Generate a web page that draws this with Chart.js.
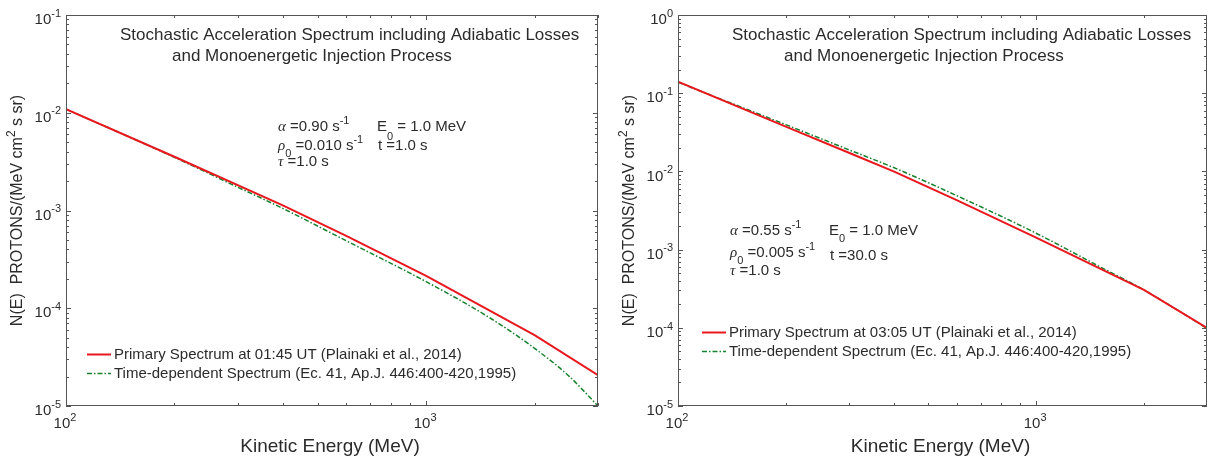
<!DOCTYPE html>
<html>
<head>
<meta charset="utf-8">
<script src="https://cdn.jsdelivr.net/npm/chart.js@4.4.0/dist/chart.umd.min.js"></script>
<style>
html, body { margin: 0; padding: 0; background: #fff; overflow: hidden; }
#caja { position: relative; width: 1207px; height: 458px; }
canvas { position: absolute; top: 0; }
</style>
</head>
<body>
<div id="caja">
  <canvas id="grafica1" width="603" height="458" style="left:0"></canvas>
  <canvas id="grafica2" width="604" height="458" style="left:603px"></canvas>
</div>
<script>
// valores (energia en MeV, N(E) en protones/(MeV cm2 s sr))
const energiaRojo1 = [100, 200, 400, 600, 1000, 2000, 3000];
const rojo1 = [1.09e-2, 3.55e-3, 1.13e-3, 5.5e-4, 2.14e-4, 5.3e-5, 2.07e-5];
const energiaVerde1 = [100, 200, 300, 400, 600, 1000, 1500, 2000, 2500, 3000];
const verde1 = [1.09e-2, 3.5e-3, 1.73e-3, 1.05e-3, 4.9e-4, 1.87e-4, 8.0e-5, 3.89e-5, 2.0e-5, 1.0e-5];

const energiaRojo2 = [100, 200, 300, 400, 600, 1000, 2000, 3000];
const rojo2 = [0.14, 3.73e-2, 1.73e-2, 1.0e-2, 4.3e-3, 1.42e-3, 3.05e-4, 1.0e-4];
const energiaVerde2 = [100, 200, 300, 400, 600, 1000, 1500, 2000, 2500, 3000];
const verde2 = [0.138, 3.96e-2, 1.89e-2, 1.12e-2, 4.9e-3, 1.62e-3, 6.1e-4, 3.05e-4, 1.65e-4, 9.8e-5];

// exponentes de las etiquetas de los ejes
const expX = [2, 3];
const expY1 = [-5, -4, -3, -2, -1];
const expY2 = [-5, -4, -3, -2, -1, 0];

const etiquetaRojo1 = 'Primary Spectrum at 01:45 UT (Plainaki et al., 2014)';
const etiquetaRojo2 = 'Primary Spectrum at 03:05 UT (Plainaki et al., 2014)';
const etiquetaVerde = 'Time-dependent Spectrum (Ec. 41, Ap.J. 446:400-420,1995)';

const sans = '"Liberation Sans", Arial, Helvetica, sans-serif';
const serif = '"Liberation Serif", "Times New Roman", serif';
const tinta = '#2b2b2b';

function pares(xs, ys) {
    return xs.map((x, i) => ({x: x, y: ys[i]}));
}

// texto con superindices / subindices
function escribir(ctx, partes, x, y, tam, medir) {
    let cx = x;
    for (const p of partes) {
        const chico = p.sup || p.sub;
        const t = chico ? Math.round(tam * 0.72) : tam;
        ctx.font = (p.griega ? 'italic ' : '') + t + 'px ' + (p.griega ? serif : sans);
        let dy = 0;
        if (p.sup) dy = -tam * 0.42;
        if (p.sub) dy = p.dy !== undefined ? p.dy : tam * 0.5;
        if (!medir) ctx.fillText(p.t, cx, y + dy);
        cx += ctx.measureText(p.t).width;
    }
    return cx - x;
}

function potencia(e) {
    return [{t: '10'}, {t: String(e), sup: true}];
}

function marco(info) {
    return {
        id: 'marco',
        afterDraw(chart) {
            const ctx = chart.ctx;
            const a = chart.chartArea;
            const sx = chart.scales.x, sy = chart.scales.y;
            ctx.save();
            ctx.strokeStyle = '#555';
            ctx.lineWidth = 1;
            ctx.strokeRect(a.left + 0.5, a.top + 0.5, a.right - a.left - 1, a.bottom - a.top - 1);

            // marcas hacia dentro en los cuatro lados
            ctx.beginPath();
            for (let d = 100; d <= 1000; d *= 10) {
                for (let k = 1; k <= 9; k++) {
                    const v = d * k;
                    if (v < 100 || v > 3000) continue;
                    const px = Math.round(sx.getPixelForValue(v)) + 0.5;
                    const l = k === 1 ? 5 : 3;
                    ctx.moveTo(px, a.bottom); ctx.lineTo(px, a.bottom - l);
                    ctx.moveTo(px, a.top); ctx.lineTo(px, a.top + l);
                }
            }
            for (let n = -5; n < info.expMax; n++) {
                for (let k = 1; k <= 9; k++) {
                    const v = k * Math.pow(10, n);
                    const py = Math.round(sy.getPixelForValue(v)) + 0.5;
                    const l = k === 1 ? 5 : 3;
                    ctx.moveTo(a.left, py); ctx.lineTo(a.left + l, py);
                    ctx.moveTo(a.right, py); ctx.lineTo(a.right - l, py);
                }
            }
            ctx.stroke();

            ctx.fillStyle = tinta;
            ctx.textBaseline = 'middle';
            ctx.textAlign = 'left';

            // etiquetas del eje y
            info.expY.forEach(e => {
                const py = sy.getPixelForValue(Math.pow(10, e));
                const w = escribir(ctx, potencia(e), 0, 0, 15, true);
                escribir(ctx, potencia(e), a.left - 5 - w, py + 5, 15);
            });
            // etiquetas del eje x
            expX.forEach(e => {
                const px = sx.getPixelForValue(Math.pow(10, e));
                const w = escribir(ctx, potencia(e), 0, 0, 15, true);
                escribir(ctx, potencia(e), px - w / 2 - 1, a.bottom + 18, 15);
            });

            // titulos de ejes
            ctx.font = '19px ' + sans;
            ctx.textAlign = 'center';
            ctx.fillText('Kinetic Energy (MeV)', (a.left + a.right) / 2 - 2, a.bottom + 41);
            ctx.textAlign = 'left';
            const tituloY = [{t: 'N(E)  PROTONS/(MeV cm'}, {t: '2', sup: true}, {t: ' s sr)'}];
            const wy = escribir(ctx, tituloY, 0, 0, 16, true);
            ctx.save();
            ctx.translate(a.left - 48, (a.top + a.bottom) / 2);
            ctx.rotate(-Math.PI / 2);
            escribir(ctx, tituloY, -wy / 2, 0, 16);
            ctx.restore();

            // titulo dentro del grafico
            ctx.font = '17px ' + sans;
            ctx.fillText('Stochastic Acceleration Spectrum including Adiabatic Losses', a.left + 54, a.top + 20);
            ctx.fillText('and Monoenergetic Injection Process', a.left + 106, a.top + 41);

            // parametros
            const p = info.param;
            const x0 = a.left + p.dx;
            escribir(ctx, [{t: '\u03b1', griega: true}, {t: ' =' + p.alfa + ' s'}, {t: '-1', sup: true}], x0, a.top + p.y1, 15);
            escribir(ctx, [{t: 'E'}, {t: '0', sub: true, dy: p.subE}, {t: ' = 1.0 MeV'}], x0 + 99, a.top + p.y1, 15);
            escribir(ctx, [{t: '\u03c1', griega: true}, {t: '0', sub: true}, {t: ' =' + p.rho + ' s'}, {t: '-1', sup: true}], x0, a.top + p.y2, 15);
            escribir(ctx, [{t: 't =' + p.t + ' s'}], x0 + 100, a.top + p.y2 + p.dt, 15);
            escribir(ctx, [{t: '\u03c4', griega: true}, {t: ' =1.0 s'}], x0, a.top + p.y3, 15);

            // leyenda
            chart.data.datasets.forEach((ds, i) => {
                const ly = Math.round(a.top + info.leyenda.y + i * 19) + 0.5;
                const lx = a.left + info.leyenda.x;
                ctx.save();
                ctx.strokeStyle = ds.borderColor;
                ctx.lineWidth = ds.borderWidth;
                ctx.setLineDash(ds.borderDash || []);
                ctx.beginPath();
                ctx.moveTo(lx, ly); ctx.lineTo(lx + 24, ly);
                ctx.stroke();
                ctx.restore();
                ctx.font = '15px ' + sans;
                ctx.fillText(ds.label, lx + 27, ly);
            });
            ctx.restore();
        }
    };
}

function crearGrafica(id, datos) {
    return new Chart(document.getElementById(id), {
        type: 'line',
        data: {
            datasets: [{
                    label: datos.etiquetaRojo,
                    data: pares(datos.er, datos.rojo),
                    borderColor: 'rgb(232, 24, 30)',
                    borderWidth: 2,
                    pointRadius: 0,
                    tension: 0
                },
                {
                    label: etiquetaVerde,
                    data: pares(datos.ev, datos.verde),
                    borderColor: 'rgb(22, 130, 45)',
                    borderWidth: 1.5,
                    borderDash: [5, 2, 1.5, 2],
                    pointRadius: 0,
                    cubicInterpolationMode: 'monotone'
                }
            ]
        },
        options: {
            responsive: false,
            animation: false,
            devicePixelRatio: 1,
            layout: {padding: {left: datos.izq, right: datos.der, top: 15, bottom: 52}},
            plugins: {legend: {display: false}, tooltip: {enabled: false}},
            scales: {
                x: {type: 'logarithmic', min: 100, max: 3000, display: false},
                y: {type: 'logarithmic', min: 1e-5, max: Math.pow(10, datos.expMax), display: false}
            }
        },
        plugins: [marco(datos)]
    });
}

crearGrafica('grafica1', {
    etiquetaRojo: etiquetaRojo1, er: energiaRojo1, rojo: rojo1, ev: energiaVerde1, verde: verde1,
    izq: 66, der: 5, expMax: -1, expY: expY1,
    param: {dx: 212, alfa: '0.90', rho: '0.010', t: '1.0', y1: 112, y2: 131, y3: 147, dt: 0, subE: 10},
    leyenda: {x: 21, y: 339}
});

crearGrafica('grafica2', {
    etiquetaRojo: etiquetaRojo2, er: energiaRojo2, rojo: rojo2, ev: energiaVerde2, verde: verde2,
    izq: 75, der: 0, expMax: 0, expY: expY2,
    param: {dx: 52, alfa: '0.55', rho: '0.005', t: '30.0', y1: 216, y2: 238, y3: 256, dt: 3, subE: 7.5},
    leyenda: {x: 24, y: 317}
});
</script>
</body>
</html>
